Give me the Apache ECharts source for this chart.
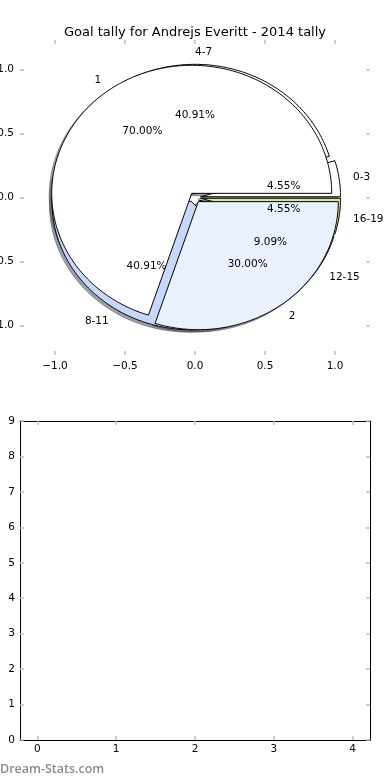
<!DOCTYPE html>
<html><head><meta charset="utf-8">
<script src="https://cdn.jsdelivr.net/npm/echarts@6/dist/echarts.min.js"></script>
<style>html,body{margin:0;padding:0;background:#fff}#c{width:390px;height:780px}</style>
</head><body><div id="c"></div>
<script>
const titleText = 'Goal tally for Andrejs Everitt - 2014 tally';
const groupLabels = ['0-3', '4-7', '8-11', '12-15', '16-19'];
const groupValues = [1, 9, 9, 2, 1];
const groupColors = ['#ffffff', '#ffffff', '#c6d9fb', '#dce7fa', '#d6e98e'];
const resultLabels = ['1', '2'];
const resultValues = [7, 3];
const resultColors = ['#ffffff', '#eaf1fc'];
const pieTicks = [-1.0, -0.5, 0.0, 0.5, 1.0];
const lowerXTicks = [0, 1, 2, 3, 4];
const lowerYMin = 0, lowerYMax = 9;
const watermark = 'Dream-Stats.com';

const EXPLODE = 0.04, LABEL_DIST = 1.1, PCT_DIST = 0.6, SH = -0.018;
const FONT = 'DejaVu Sans';

function buildWedges(labels, values, colors) {
  const total = values.reduce((a, b) => a + b, 0);
  let a = 0; const out = [];
  values.forEach((v, i) => {
    const span = 360 * v / total;
    out.push({label: labels[i], pct: (100 * v / total).toFixed(2) + '%', start: a, end: a + span, color: colors[i]});
    a += span;
  });
  return out;
}
const wedges = buildWedges(groupLabels, groupValues, groupColors)
  .concat(buildWedges(resultLabels, resultValues, resultColors));

function center(w) {
  const mid = (w.start + w.end) / 2 * Math.PI / 180;
  return [EXPLODE * Math.cos(mid), EXPLODE * Math.sin(mid), mid];
}
function wedgePoints(api, w, ox, oy) {
  const c = center(w);
  const cx = c[0] + ox, cy = c[1] + oy;
  const pts = [api.coord([cx, cy])];
  const n = Math.max(2, Math.ceil(w.end - w.start));
  for (let k = 0; k <= n; k++) {
    const t = (w.start + (w.end - w.start) * k / n) * Math.PI / 180;
    pts.push(api.coord([cx + Math.cos(t), cy + Math.sin(t)]));
  }
  return pts;
}
function shadowColor(hex) {
  const r = parseInt(hex.slice(1, 3), 16), g = parseInt(hex.slice(3, 5), 16), b = parseInt(hex.slice(5, 7), 16);
  return 'rgba(' + Math.round(r * 0.3) + ',' + Math.round(g * 0.3) + ',' + Math.round(b * 0.3) + ',0.5)';
}
const wedgeData = wedges.map(() => [0, 0]);
const tickStyle = {color: '#bdbdbd', width: 1.5};
const lbl = {color: '#000', fontSize: 10.5, fontFamily: FONT};
const fmt1 = v => (v < 0 ? '\u2212' : '') + Math.abs(v).toFixed(1);

const chart = echarts.init(document.getElementById('c'), null, {renderer: 'canvas'});
chart.setOption({
  animation: false,
  backgroundColor: '#fff',
  title: {text: titleText, left: 'center', top: 21, textStyle: {fontSize: 13, fontWeight: 'normal', fontFamily: FONT, color: '#000'}},
  graphic: [{type: 'text', left: 0, top: 763, style: {text: watermark, fill: '#8a8a8a', font: '600 12.5px "Open Sans"'}}],
  grid: [
    {left: 20, top: 40, width: 350, height: 315, containLabel: false, outerBoundsMode: 'none'},
    {left: 20, top: 421, width: 350, height: 319, containLabel: false, outerBoundsMode: 'none'}
  ],
  xAxis: [
    {gridIndex: 0, type: 'value', position: 'bottom', min: -1.25, max: 1.25,
     axisLine: {show: false, onZero: false}, splitLine: {show: false},
     axisTick: {show: true, inside: true, length: 4, lineStyle: tickStyle, customValues: pieTicks},
     axisLabel: Object.assign({margin: 6, customValues: pieTicks, formatter: fmt1}, lbl)},
    {gridIndex: 0, type: 'value', position: 'top', min: -1.25, max: 1.25,
     axisLine: {show: false, onZero: false}, splitLine: {show: false},
     axisTick: {show: true, inside: true, length: 4, lineStyle: tickStyle, customValues: pieTicks},
     axisLabel: {show: false}},
    {gridIndex: 1, type: 'value', position: 'bottom', min: -0.22, max: 4.22,
     axisLine: {show: true, onZero: false, lineStyle: {color: '#000', width: 1}}, splitLine: {show: false},
     axisTick: {show: true, inside: true, length: 4, lineStyle: tickStyle, customValues: lowerXTicks},
     axisLabel: Object.assign({margin: 4, customValues: lowerXTicks}, lbl)},
    {gridIndex: 1, type: 'value', position: 'top', min: -0.22, max: 4.22,
     axisLine: {show: true, onZero: false, lineStyle: {color: '#000', width: 1}}, splitLine: {show: false},
     axisTick: {show: true, inside: true, length: 4, lineStyle: tickStyle, customValues: lowerXTicks},
     axisLabel: {show: false}}
  ],
  yAxis: [
    {gridIndex: 0, type: 'value', position: 'left', min: -1.23, max: 1.23,
     axisLine: {show: false, onZero: false}, splitLine: {show: false},
     axisTick: {show: true, inside: true, length: 4, lineStyle: tickStyle, customValues: pieTicks},
     axisLabel: Object.assign({margin: 6, customValues: pieTicks, formatter: fmt1}, lbl)},
    {gridIndex: 0, type: 'value', position: 'right', min: -1.23, max: 1.23,
     axisLine: {show: false, onZero: false}, splitLine: {show: false},
     axisTick: {show: true, inside: true, length: 4, lineStyle: tickStyle, customValues: pieTicks},
     axisLabel: {show: false}},
    {gridIndex: 1, type: 'value', position: 'left', min: lowerYMin, max: lowerYMax, interval: 1,
     axisLine: {show: true, onZero: false, lineStyle: {color: '#000', width: 1}}, splitLine: {show: false},
     axisTick: {show: true, inside: true, length: 4, lineStyle: tickStyle},
     axisLabel: Object.assign({margin: 5}, lbl)},
    {gridIndex: 1, type: 'value', position: 'right', min: lowerYMin, max: lowerYMax, interval: 1,
     axisLine: {show: true, onZero: false, lineStyle: {color: '#000', width: 1}}, splitLine: {show: false},
     axisTick: {show: true, inside: true, length: 4, lineStyle: tickStyle},
     axisLabel: {show: false}}
  ],
  series: [
    {type: 'custom', xAxisIndex: 0, yAxisIndex: 0, z: 1, silent: true, data: wedgeData,
     renderItem: (params, api) => {
       const w = wedges[params.dataIndex];
       const sc = shadowColor(w.color);
       return {type: 'polygon', shape: {points: wedgePoints(api, w, SH, SH)}, style: {fill: sc, stroke: sc, lineWidth: 1}};
     }},
    {type: 'custom', xAxisIndex: 0, yAxisIndex: 0, z: 2, silent: true, data: wedgeData,
     renderItem: (params, api) => {
       const w = wedges[params.dataIndex];
       return {type: 'polygon', shape: {points: wedgePoints(api, w, 0, 0)}, style: {fill: w.color, stroke: '#000', lineWidth: 1, lineJoin: 'miter'}};
     }},
    {type: 'custom', xAxisIndex: 0, yAxisIndex: 0, z: 3, silent: true, data: wedgeData,
     renderItem: (params, api) => {
       const w = wedges[params.dataIndex];
       const c = center(w);
       const dx = Math.cos(c[2]), dy = Math.sin(c[2]);
       const lp = api.coord([c[0] + LABEL_DIST * dx, c[1] + LABEL_DIST * dy]);
       const pp = api.coord([c[0] + PCT_DIST * dx, c[1] + PCT_DIST * dy]);
       return {type: 'group', children: [
         {type: 'text', x: lp[0], y: lp[1] + 1, style: {text: w.label, fill: '#000', fontSize: 10.5, fontFamily: FONT, align: dx > -1e-9 ? 'left' : 'right', verticalAlign: 'middle'}},
         {type: 'text', x: pp[0], y: pp[1], style: {text: w.pct, fill: '#000', fontSize: 10.5, fontFamily: FONT, align: 'center', verticalAlign: 'middle'}}
       ]};
     }}
  ]
});
</script></body></html>
